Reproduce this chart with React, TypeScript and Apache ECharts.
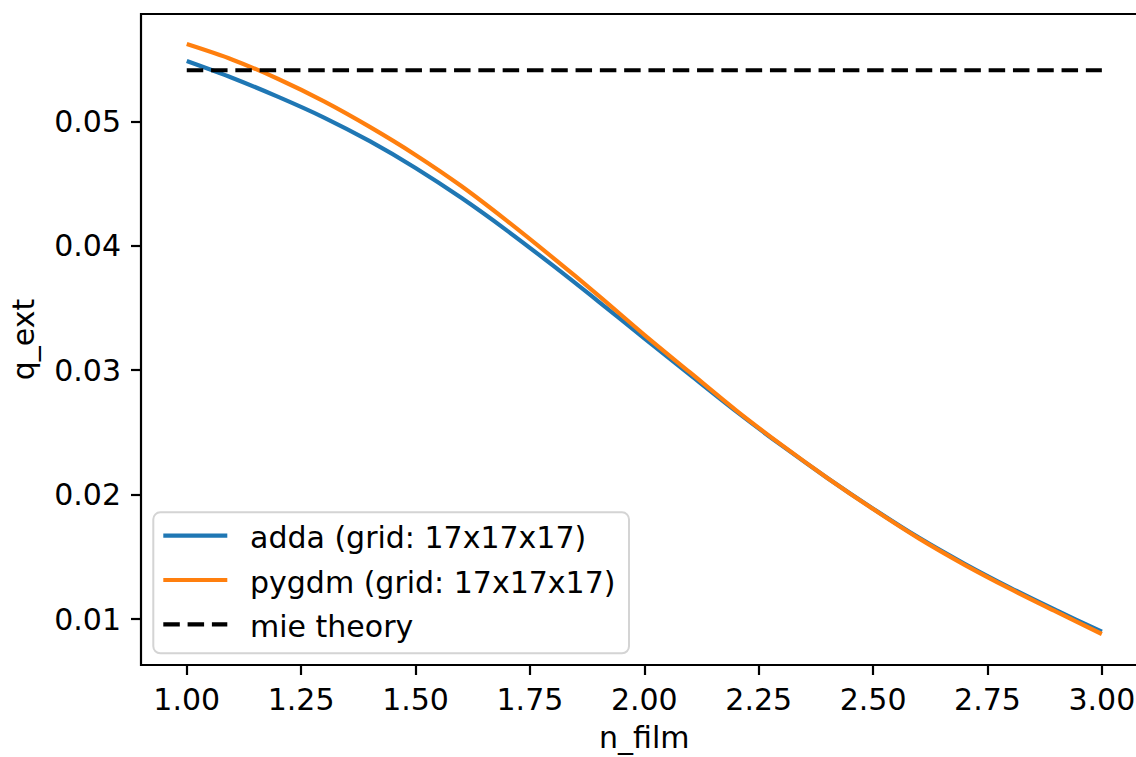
import React, { useEffect, useRef } from "react";
import * as echarts from "echarts";

const nFilm = [1.0, 1.1, 1.2, 1.3, 1.4, 1.5, 1.6, 1.7, 1.8, 1.9, 2.0, 2.1, 2.2, 2.3, 2.4, 2.5, 2.6, 2.7, 2.8, 2.9, 3.0];
const adda = [0.05484, 0.05348, 0.05196, 0.0503, 0.0484, 0.04625, 0.04385, 0.04122, 0.03842, 0.03552, 0.03256, 0.02962, 0.02671, 0.02396, 0.02135, 0.01888, 0.01655, 0.01445, 0.01252, 0.01072, 0.0090];
const pygdm = [0.0562, 0.05495, 0.0534, 0.0516, 0.04955, 0.0473, 0.0448, 0.042, 0.03905, 0.036, 0.03285, 0.02982, 0.0268, 0.024, 0.02135, 0.01885, 0.01649, 0.01437, 0.01243, 0.01061, 0.00881];
const mie = [0.0541, 0.0541];
const mieX = [1.0, 3.0];
const xTicks = [1.0, 1.25, 1.5, 1.75, 2.0, 2.25, 2.5, 2.75, 3.0];
const yTicks = [0.01, 0.02, 0.03, 0.04, 0.05];
const seriesNames = ["adda (grid: 17x17x17)", "pygdm (grid: 17x17x17)", "mie theory"];
const seriesColors = ["#1f77b4", "#ff7f0e", "#000000"];

const FONT = "DejaVu Sans";
const FS = 30;

export default function App() {
  const ref = useRef<HTMLDivElement>(null);
  useEffect(() => {
    if (!ref.current) return;
    const chart = echarts.init(ref.current, undefined, { renderer: "svg" });

    const legendRows = [535.7, 580, 624.3];
    const legendGraphics: any[] = [
      {
        type: "rect",
        shape: { x: 153.3, y: 512.3, width: 475.7, height: 141, r: 7 },
        style: { fill: "rgba(255,255,255,0.8)", stroke: "#d4d4d4", lineWidth: 2 },
        z: 100,
      },
    ];
    seriesNames.forEach((name, i) => {
      legendGraphics.push({
        type: "line",
        shape: { x1: 163.3, y1: legendRows[i], x2: 227.3, y2: legendRows[i] },
        style: {
          stroke: seriesColors[i],
          lineWidth: 4.2,
          lineDash: i === 2 ? [16.5, 7.8] : null,
          lineCap: "butt",
        },
        z: 101,
      });
      legendGraphics.push({
        type: "text",
        x: 250,
        y: legendRows[i] + 2,
        style: {
          text: name,
          fontFamily: FONT,
          fontSize: FS,
          fill: "#000",
          textAlign: "left",
          textVerticalAlign: "middle",
        },
        z: 101,
      });
    });

    chart.setOption({
      animation: false,
      backgroundColor: "#ffffff",
      textStyle: { fontFamily: FONT },
      grid: {
        left: 138.4,
        top: 14,
        width: 1009.2,
        height: 653.7,
        show: true,
        borderColor: "#000",
        borderWidth: 2.2,
        backgroundColor: "transparent",
      },
      xAxis: {
        type: "value",
        min: 0.9,
        max: 3.1,
        name: "n_film",
        nameLocation: "middle",
        nameGap: 57,
        nameTextStyle: { fontFamily: FONT, fontSize: FS, color: "#000" },
        axisLine: { show: false },
        splitLine: { show: false },
        axisTick: {
          show: true,
          length: 10,
          lineStyle: { color: "#000", width: 2.2 },
          customValues: xTicks,
        },
        axisLabel: {
          customValues: xTicks,
          formatter: (v: number) => v.toFixed(2),
          fontFamily: FONT,
          fontSize: FS,
          color: "#000",
          margin: 19,
        },
      },
      yAxis: {
        type: "value",
        min: 0.00632,
        max: 0.05862,
        name: "q_ext",
        nameLocation: "middle",
        nameGap: 103,
        nameTextStyle: { fontFamily: FONT, fontSize: FS, color: "#000" },
        axisLine: { show: false },
        splitLine: { show: false },
        axisTick: {
          show: true,
          length: 10,
          lineStyle: { color: "#000", width: 2.2 },
          customValues: yTicks,
        },
        axisLabel: {
          customValues: yTicks,
          formatter: (v: number) => v.toFixed(2),
          fontFamily: FONT,
          fontSize: FS,
          color: "#000",
          margin: 20,
        },
      },
      graphic: legendGraphics,
      series: [
        {
          name: seriesNames[0],
          type: "line",
          data: nFilm.map((x, i) => [x, adda[i]]),
          smooth: 0.3,
          symbol: "none",
          lineStyle: { color: seriesColors[0], width: 4.2 },
          itemStyle: { color: seriesColors[0] },
        },
        {
          name: seriesNames[1],
          type: "line",
          data: nFilm.map((x, i) => [x, pygdm[i]]),
          smooth: 0.3,
          symbol: "none",
          lineStyle: { color: seriesColors[1], width: 4.2 },
          itemStyle: { color: seriesColors[1] },
        },
        {
          name: seriesNames[2],
          type: "line",
          data: mieX.map((x, i) => [x, mie[i]]),
          symbol: "none",
          lineStyle: { color: seriesColors[2], width: 4.2, type: [16.5, 7.8], cap: "butt" },
          itemStyle: { color: seriesColors[2] },
        },
      ],
    });
    return () => chart.dispose();
  }, []);
  return (
    <div
      style={{
        position: "absolute",
        left: 0,
        top: 0,
        width: 1136,
        height: 757,
        overflow: "hidden",
        background: "#fff",
      }}
    >
      <div ref={ref} style={{ width: 1160, height: 757 }} />
    </div>
  );
}
